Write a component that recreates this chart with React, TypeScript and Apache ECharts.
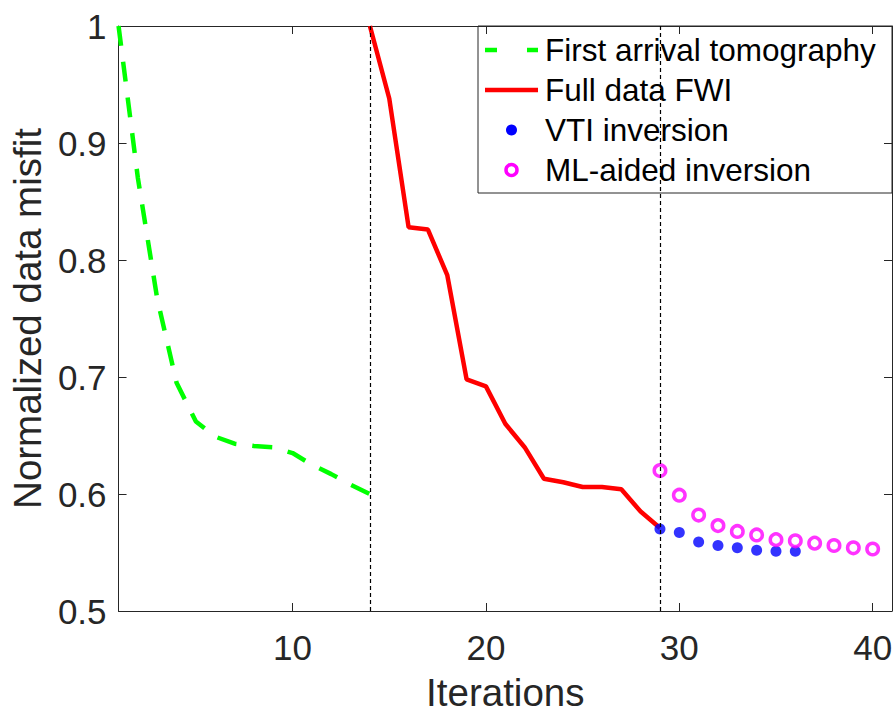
import React, { useEffect, useRef } from "react";
import * as echarts from "echarts";

// Misfit history of each inversion stage
const tomoIter = [1, 2, 3, 4, 5, 6, 7, 8, 9, 10, 11, 12, 13, 14];
const tomoMisfit = [1.0, 0.87, 0.767, 0.695, 0.662, 0.649, 0.643, 0.641, 0.64, 0.635, 0.625, 0.617, 0.608, 0.6];

const fwiIter = [14, 15, 16, 17, 18, 19, 20, 21, 22, 23, 24, 25, 26, 27, 28, 29];
const fwiMisfit = [1.0, 0.938, 0.828, 0.826, 0.787, 0.698, 0.692, 0.66, 0.64, 0.613, 0.61, 0.606, 0.606, 0.604, 0.585, 0.571];

const vtiIter = [29, 30, 31, 32, 33, 34, 35, 36];
const vtiMisfit = [0.57, 0.567, 0.559, 0.556, 0.554, 0.552, 0.551, 0.551];

const mlIter = [29, 30, 31, 32, 33, 34, 35, 36, 37, 38, 39, 40];
const mlMisfit = [0.62, 0.599, 0.582, 0.573, 0.568, 0.565, 0.561, 0.56, 0.558, 0.556, 0.554, 0.553];

const xTicks = [10, 20, 30, 40];
const stageBreaks = [14, 29];

const seriesNames = ["First arrival tomography", "Full data FWI", "VTI inversion", "ML-aided inversion"];

const FONT = '"Liberation Sans", Arial, Helvetica, sans-serif';
const AXIS_COLOR = "#262626";

const pairs = (xs: number[], ys: number[]) => xs.map((x, i) => [x, ys[i]]);

export default function App() {
  const ref = useRef<HTMLDivElement>(null);

  useEffect(() => {
    if (!ref.current) return;
    const chart = echarts.init(ref.current, null, { renderer: "svg" });

    const tickCommon = {
      show: true,
      inside: true,
      length: 8,
      lineStyle: { color: AXIS_COLOR, width: 1 },
    };
    const axisLineCommon = { show: true, lineStyle: { color: AXIS_COLOR, width: 1 } };

    // legend drawn as a framed box in the upper right
    const lx = 478;
    const ly = 26;
    const lw = 414;
    const lh = 167;
    const rowY = [50, 90, 130, 170];
    const legendChildren: any[] = [
      {
        type: "rect",
        shape: { x: lx, y: ly, width: lw, height: lh },
        style: { fill: "#ffffff", stroke: AXIS_COLOR, lineWidth: 1 },
      },
      {
        type: "line",
        shape: { x1: 485, y1: rowY[0], x2: 497, y2: rowY[0] },
        style: { stroke: "#00ff00", lineWidth: 4.5 },
      },
      {
        type: "line",
        shape: { x1: 527, y1: rowY[0], x2: 538, y2: rowY[0] },
        style: { stroke: "#00ff00", lineWidth: 4.5 },
      },
      {
        type: "line",
        shape: { x1: 485, y1: rowY[1], x2: 538, y2: rowY[1] },
        style: { stroke: "#ff0000", lineWidth: 4.5 },
      },
      {
        type: "circle",
        shape: { cx: 511.5, cy: rowY[2], r: 5.5 },
        style: { fill: "#0000ff" },
      },
      {
        type: "circle",
        shape: { cx: 511.5, cy: rowY[3], r: 5.5 },
        style: { fill: "#ffffff", stroke: "#ff00ff", lineWidth: 3.5 },
      },
    ];
    seriesNames.forEach((name, i) => {
      legendChildren.push({
        type: "text",
        style: {
          text: name,
          x: 545,
          y: rowY[i],
          font: `31.5px ${FONT}`,
          fill: "#000000",
          verticalAlign: "middle",
          align: "left",
        },
      });
    });

    chart.setOption({
      animation: false,
      backgroundColor: "#ffffff",
      grid: { left: 117, right: 4, top: 26, bottom: 99, containLabel: false },
      xAxis: [
        {
          type: "value",
          min: 1,
          max: 41,
          position: "bottom",
          name: "Iterations",
          nameLocation: "middle",
          nameGap: 62,
          nameTextStyle: { fontFamily: FONT, fontSize: 38.5, color: AXIS_COLOR },
          axisLine: axisLineCommon,
          axisTick: { ...tickCommon, customValues: xTicks },
          axisLabel: {
            customValues: xTicks,
            fontFamily: FONT,
            fontSize: 35,
            color: AXIS_COLOR,
            margin: 19,
          },
          splitLine: { show: false },
        },
        {
          type: "value",
          min: 1,
          max: 41,
          position: "top",
          axisLine: axisLineCommon,
          axisTick: { ...tickCommon, customValues: xTicks },
          axisLabel: { show: false },
          splitLine: { show: false },
        },
      ],
      yAxis: [
        {
          type: "value",
          min: 0.5,
          max: 1,
          interval: 0.1,
          position: "left",
          name: "Normalized data misfit",
          nameLocation: "middle",
          nameGap: 69,
          nameTextStyle: { fontFamily: FONT, fontSize: 38.5, color: AXIS_COLOR },
          axisLine: axisLineCommon,
          axisTick: tickCommon,
          axisLabel: {
            fontFamily: FONT,
            fontSize: 35,
            color: AXIS_COLOR,
            margin: 12,
            formatter: (v: number) => String(Number(v.toFixed(1))),
          },
          splitLine: { show: false },
        },
        {
          type: "value",
          min: 0.5,
          max: 1,
          interval: 0.1,
          position: "right",
          axisLine: axisLineCommon,
          axisTick: tickCommon,
          axisLabel: { show: false },
          splitLine: { show: false },
        },
      ],
      series: [
        {
          name: "stage breaks",
          type: "line",
          data: [],
          markLine: {
            silent: true,
            symbol: "none",
            label: { show: false },
            lineStyle: { color: "#000000", width: 1.2, type: [4, 3] },
            data: stageBreaks.map((x) => ({ xAxis: x })),
          },
        },
        {
          name: seriesNames[0],
          type: "line",
          data: pairs(tomoIter, tomoMisfit),
          showSymbol: false,
          symbol: "none",
          lineStyle: { color: "#00ff00", width: 4.5, type: [20, 16] },
          z: 3,
        },
        {
          name: seriesNames[1],
          type: "line",
          data: pairs(fwiIter, fwiMisfit),
          showSymbol: false,
          symbol: "none",
          lineStyle: { color: "#ff0000", width: 4.5 },
          z: 3,
        },
        {
          name: seriesNames[2],
          type: "scatter",
          data: pairs(vtiIter, vtiMisfit),
          symbol: "circle",
          symbolSize: 11,
          itemStyle: { color: "#0000ff" },
          z: 4,
        },
        {
          name: seriesNames[3],
          type: "scatter",
          data: pairs(mlIter, mlMisfit),
          symbol: "circle",
          symbolSize: 11.5,
          itemStyle: { color: "#ffffff", borderColor: "#ff00ff", borderWidth: 3.5 },
          z: 4,
        },
      ],
      graphic: [{ type: "group", z: 100, children: legendChildren }],
    });

    return () => chart.dispose();
  }, []);

  return (
    <div
      ref={ref}
      style={{ position: "fixed", left: 0, top: 0, width: 896, height: 717, background: "#fff" }}
    />
  );
}
